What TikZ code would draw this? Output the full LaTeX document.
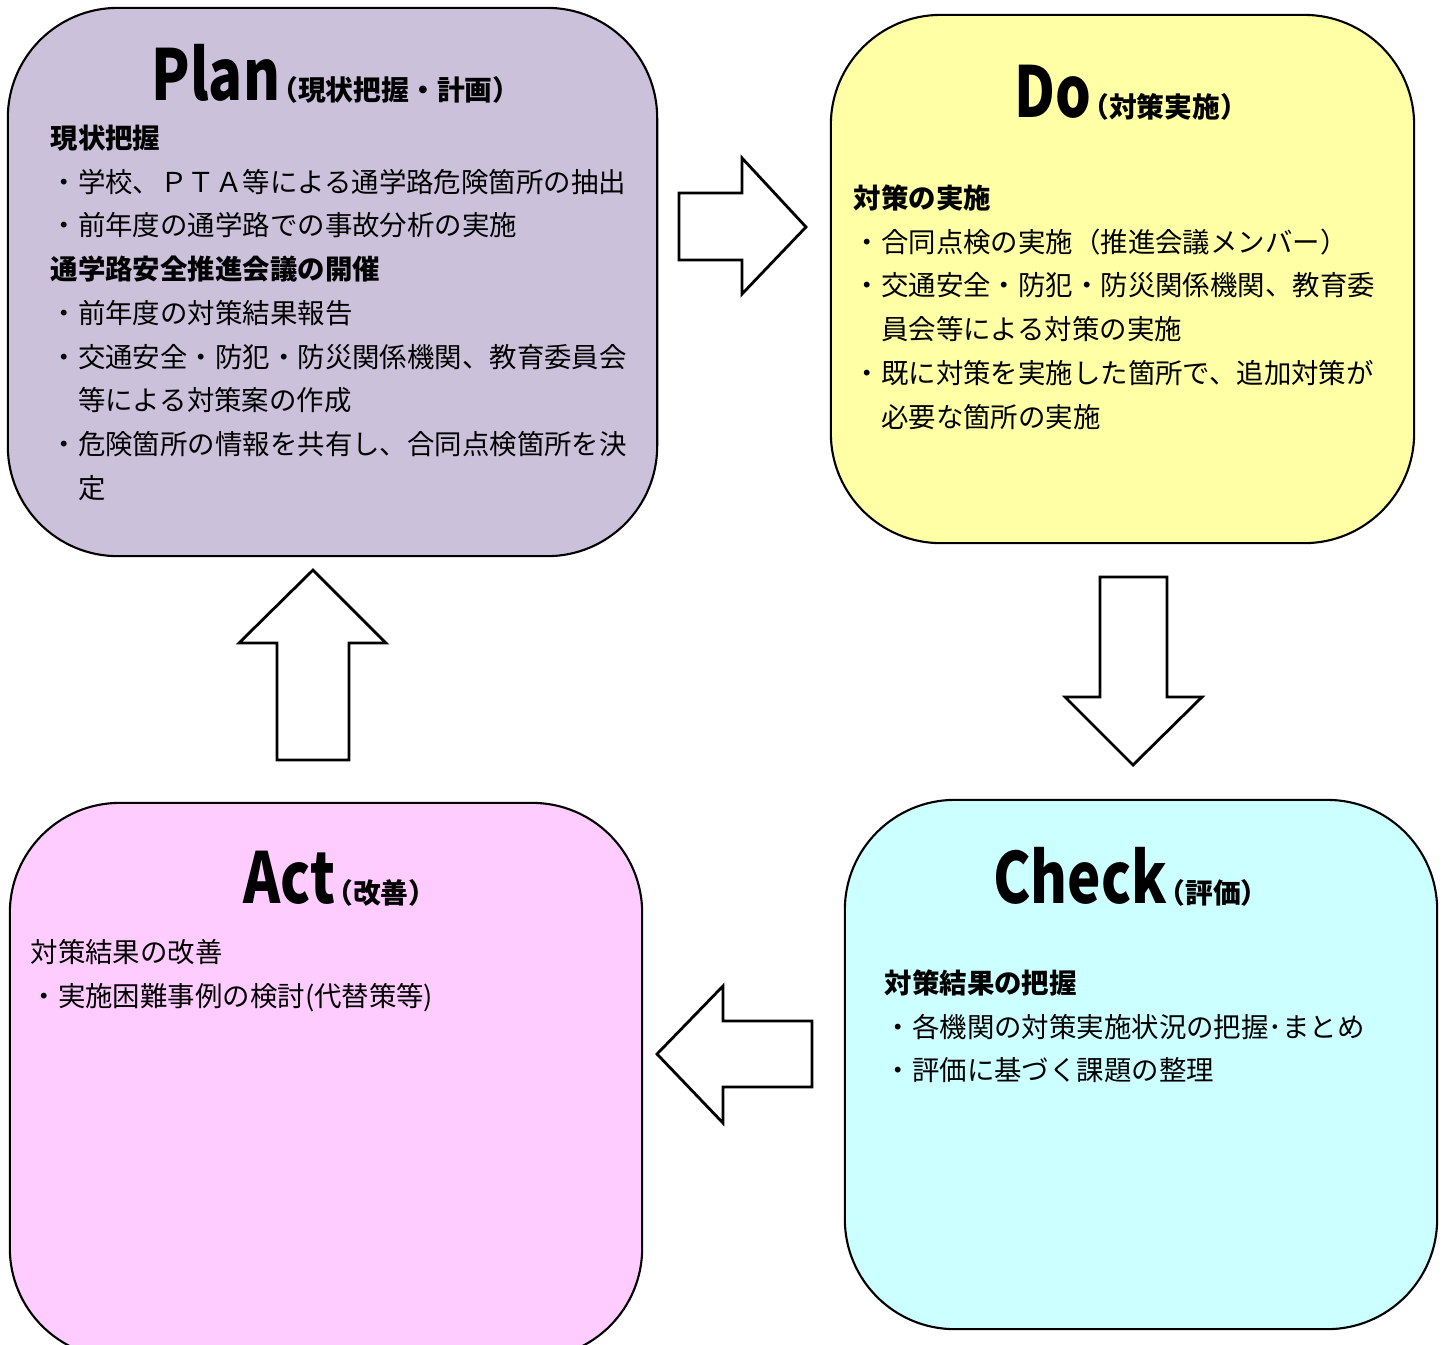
\documentclass[tikz,border=0pt]{standalone}
\usepackage{fontspec}
\setmainfont{Noto Sans CJK JP}
\usepackage{graphicx}
\usetikzlibrary{positioning}

\definecolor{plancol}{HTML}{CCC1DA}
\definecolor{docol}{HTML}{FFFFA6}
\definecolor{checkcol}{HTML}{CCFFFF}
\definecolor{actcol}{HTML}{FFCCFF}

\tikzset{
  box/.style={draw=black, line width=0.6pt, rounded corners=1.1cm, inner sep=0pt},
  blockarrow/.style={draw=black, fill=white, line width=0.8pt, line join=miter},
  bodytxt/.style={anchor=north west, align=left, inner sep=0pt,
    font=\fontsize{7.8pt}{12.45pt}\selectfont},
  titletxt/.style={anchor=base, inner sep=0pt}
}
\newcommand{\cycletitle}[2]{{\fontsize{20pt}{20pt}\selectfont\bfseries\scalebox{0.8}[1]{#1}}{\fontsize{7.9pt}{8pt}\selectfont\bfseries\hspace{-0.35em}（#2）}}

\begin{document}
\begin{tikzpicture}[x=0.01cm, y=-0.01cm]
    \useasboundingbox (0,0) rectangle (1445,1344);
    \clip (0,0) rectangle (1445,1344);

    % Draw the four boxes
    \node[box, fill=plancol, minimum width=6.49cm, minimum height=5.48cm] (plan) at (332.5,282) {};
    \node[box, fill=docol, minimum width=5.83cm, minimum height=5.28cm] (do) at (1122.5,279) {};
    \node[box, fill=checkcol, minimum width=5.92cm, minimum height=5.29cm] (check) at (1141,1064.5) {};
    \node[box, fill=actcol, minimum width=6.32cm, minimum height=5.55cm] (act) at (326,1080.5) {};

    % Titles
    \node[titletxt] (plantitle) at (336,100) {\cycletitle{Plan}{現状把握・計画}};
    \node[titletxt] (dotitle) at (1131,117) {\cycletitle{Do}{対策実施}};
    \node[titletxt] (checktitle) at (1131,903) {\cycletitle{Check}{評価}};
    \node[titletxt] (acttitle) at (340,903) {\cycletitle{Act}{改善}};

    % Texts in the boxes
    \node[bodytxt] (plantext) at (50,124) {%
      \textbf{現状把握}\\
      ・学校、ＰＴＡ等による通学路危険箇所の抽出\\
      ・前年度の通学路での事故分析の実施\\
      \textbf{通学路安全推進会議の開催}\\
      ・前年度の対策結果報告\\
      ・交通安全・防犯・防災関係機関、教育委員会\\
      　等による対策案の作成\\
      ・危険箇所の情報を共有し、合同点検箇所を決\\
      　定};
    \node[bodytxt] (dotext) at (853,184) {%
      \textbf{対策の実施}\\
      ・合同点検の実施（推進会議メンバー）\\
      ・交通安全・防犯・防災関係機関、教育委\\
      　員会等による対策の実施\\
      ・既に対策を実施した箇所で、追加対策が\\
      　必要な箇所の実施};
    \node[bodytxt] (checktext) at (884,969) {%
      \textbf{対策結果の把握}\\
      ・各機関の対策実施状況の把握･まとめ\\
      ・評価に基づく課題の整理};
    \node[bodytxt] (acttext) at (30,939) {%
      対策結果の改善\\
      ・実施困難事例の検討(代替策等)};

    % Block arrows between the boxes
    \draw[blockarrow] (679,193) -- (742,193) -- (742,158) -- (806,227) -- (742,294) -- (742,260) -- (679,260) -- cycle;
    \draw[blockarrow] (1100,577) -- (1167,577) -- (1167,697) -- (1202,697) -- (1133,765) -- (1065,697) -- (1100,697) -- cycle;
    \draw[blockarrow] (812,1021) -- (723,1021) -- (723,986) -- (657,1054) -- (723,1123) -- (723,1087) -- (812,1087) -- cycle;
    \draw[blockarrow] (277,760) -- (277,643) -- (239,643) -- (313,570) -- (386,643) -- (349,643) -- (349,760) -- cycle;
\end{tikzpicture}
\end{document}
